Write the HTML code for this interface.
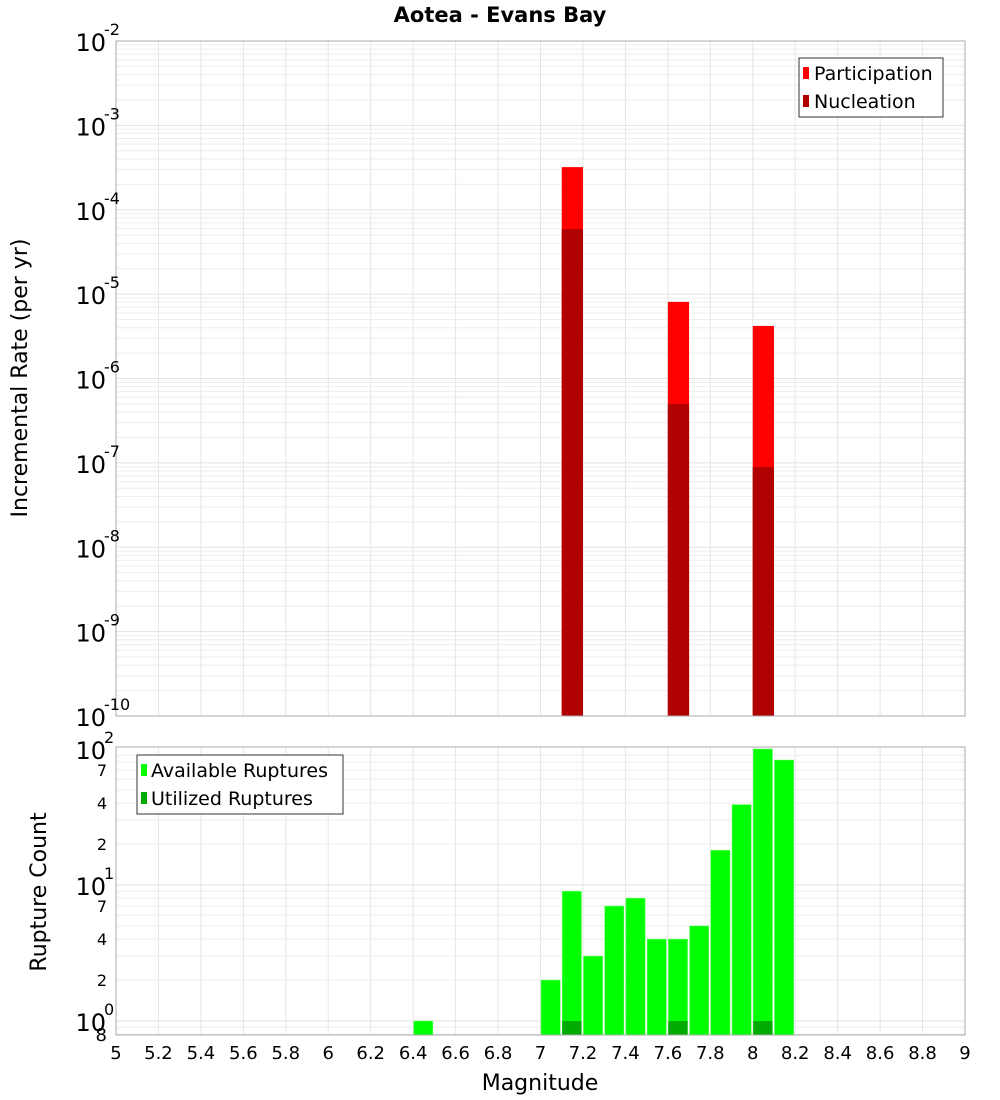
<!DOCTYPE html>
<html><head><meta charset="utf-8"><style>
body{margin:0;background:#fff}
svg{display:block;font-family:"DejaVu Sans","Liberation Sans",sans-serif}
</style></head><body>
<svg id="c" width="1000" height="1100" xmlns="http://www.w3.org/2000/svg">
<text x="500" y="22" text-anchor="middle" font-size="21" font-weight="bold">Aotea - Evans Bay</text>
<g id="topg"></g>
<g id="botg"></g>
<text transform="translate(27,378) rotate(-90)" text-anchor="middle" font-size="22">Incremental Rate (per yr)</text>
<text transform="translate(46,892) rotate(-90)" text-anchor="middle" font-size="22">Rupture Count</text>
<text x="540" y="1090" text-anchor="middle" font-size="22">Magnitude</text>
<g>
<rect x="799" y="58" width="144" height="59" fill="#fff" stroke="#333" stroke-width="1"/>
<rect x="803" y="67" width="6" height="12" fill="#ff0000"/>
<text x="814" y="80" font-size="19">Participation</text>
<rect x="803" y="95" width="6" height="12" fill="#b00000"/>
<text x="814" y="108" font-size="19">Nucleation</text>
</g>
<g>
<rect x="137" y="755" width="206" height="59" fill="#fff" stroke="#333" stroke-width="1"/>
<rect x="141" y="764" width="6" height="12" fill="#00ff00"/>
<text x="151" y="777" font-size="19">Available Ruptures</text>
<rect x="141" y="792" width="6" height="12" fill="#00aa00"/>
<text x="151" y="805" font-size="19">Utilized Ruptures</text>
</g>
</svg>
<script>
const rateMags=[7.15,7.65,8.05];
const participation=[3.2e-4,8.1e-6,4.2e-6];
const nucleation=[5.9e-5,5.0e-7,8.9e-8];
const countMags=[6.45,7.05,7.15,7.25,7.35,7.45,7.55,7.65,7.75,7.85,7.95,8.05,8.15];
const available=[1,2,9,3,7,8,4,4,5,18,39,100,83];
const utilMags=[7.15,7.65,8.05];
const utilized=[1,1,1];
const xTicks=[5,5.2,5.4,5.6,5.8,6,6.2,6.4,6.6,6.8,7,7.2,7.4,7.6,7.8,8,8.2,8.4,8.6,8.8,9];
const rateExps=[-2,-3,-4,-5,-6,-7,-8,-9,-10];
const countMinorLabels=[2,4,7];

const NS="http://www.w3.org/2000/svg";
const X0=116,X1=965;
const x=m=>X0+(m-5)/4*(X1-X0);
const TY0=41,TY1=716;
const yT=v=>TY0+(-2-Math.log10(v))/8*(TY1-TY0);
const BY0=747,BY1=1035;
const yB=v=>1021-Math.log10(v)*136;
function mk(parent,tag,attrs){const e=document.createElementNS(NS,tag);for(const k in attrs)e.setAttribute(k,attrs[k]);parent.appendChild(e);return e;}
const topG=document.getElementById('topg'),botG=document.getElementById('botg');

for(let d=-10;d<-2;d++){for(let k=1;k<10;k++){const v=k*Math.pow(10,d);const yy=yT(v);
const l=mk(topG,'line',{x1:X0,x2:X1,y1:yy,y2:yy,stroke:k==1?'#e2e2e2':'#eeeeee','stroke-width':1});

}}
xTicks.forEach(t=>{const l=mk(topG,'line',{x1:x(t),x2:x(t),y1:TY0,y2:TY1,stroke:'#e6e6e6'});


const l2=mk(botG,'line',{x1:x(t),x2:x(t),y1:BY0,y2:BY1,stroke:'#e6e6e6'});

});
for(let d=-1;d<2;d++){for(let k=1;k<10;k++){const v=k*Math.pow(10,d);const yy=yB(v);if(yy<BY0||yy>BY1)continue;
const l=mk(botG,'line',{x1:X0,x2:X1,y1:yy,y2:yy,stroke:k==1?'#e2e2e2':'#eeeeee'});

}}

rateMags.forEach((m,i)=>{
const r=mk(topG,'rect',{x:x(m-0.05),width:x(m+0.05)-x(m-0.05),y:yT(participation[i]),height:TY1-yT(participation[i]),fill:'#ff0000'});


const n=mk(topG,'rect',{x:x(m-0.05),width:x(m+0.05)-x(m-0.05),y:yT(nucleation[i]),height:TY1-yT(nucleation[i]),fill:'#b00000'});

});
mk(topG,'rect',{x:X0,y:TY0,width:X1-X0,height:TY1-TY0,fill:'none',stroke:'#aaa'});
rateExps.forEach(e=>{const yy=yT(Math.pow(10,e));
const t=mk(topG,'text',{x:106,y:yy+10,'text-anchor':'end','font-size':24});
t.textContent='10';


const s=mk(topG,'text',{x:104,y:yy-6,'font-size':16});
s.textContent=String(e);

});

countMags.forEach((m,i)=>{
const r=mk(botG,'rect',{x:x(m-0.05)+0.5,width:x(m+0.05)-x(m-0.05)-2,y:yB(available[i]),height:BY1-yB(available[i]),fill:'#00ff00',stroke:'#66ff66','stroke-width':0.5});

});
utilMags.forEach((m,i)=>{
const r=mk(botG,'rect',{x:x(m-0.05)+0.5,width:x(m+0.05)-x(m-0.05)-2,y:yB(utilized[i]),height:BY1-yB(utilized[i]),fill:'#00aa00'});

});
mk(botG,'rect',{x:X0,y:BY0,width:X1-X0,height:BY1-BY0,fill:'none',stroke:'#aaa'});
[0,1,2].forEach(e=>{const yy=yB(Math.pow(10,e));
const t=mk(botG,'text',{x:106,y:yy+10,'text-anchor':'end','font-size':24});
t.textContent='10';


const s=mk(botG,'text',{x:104,y:yy-6,'font-size':16});
s.textContent=String(e);

});
[0,1].forEach(e=>countMinorLabels.forEach(k=>{const yy=yB(k*Math.pow(10,e));
const t=mk(botG,'text',{x:107,y:yy+6,'text-anchor':'end','font-size':16});
t.textContent=String(k);

}));
const t8=mk(botG,'text',{x:107,y:1041,'text-anchor':'end','font-size':18});
t8.textContent='8';


xTicks.forEach(t=>{const e=mk(botG,'text',{x:x(t),y:1059,'text-anchor':'middle','font-size':18});
e.textContent=String(t);

});
</script>
</body></html>
